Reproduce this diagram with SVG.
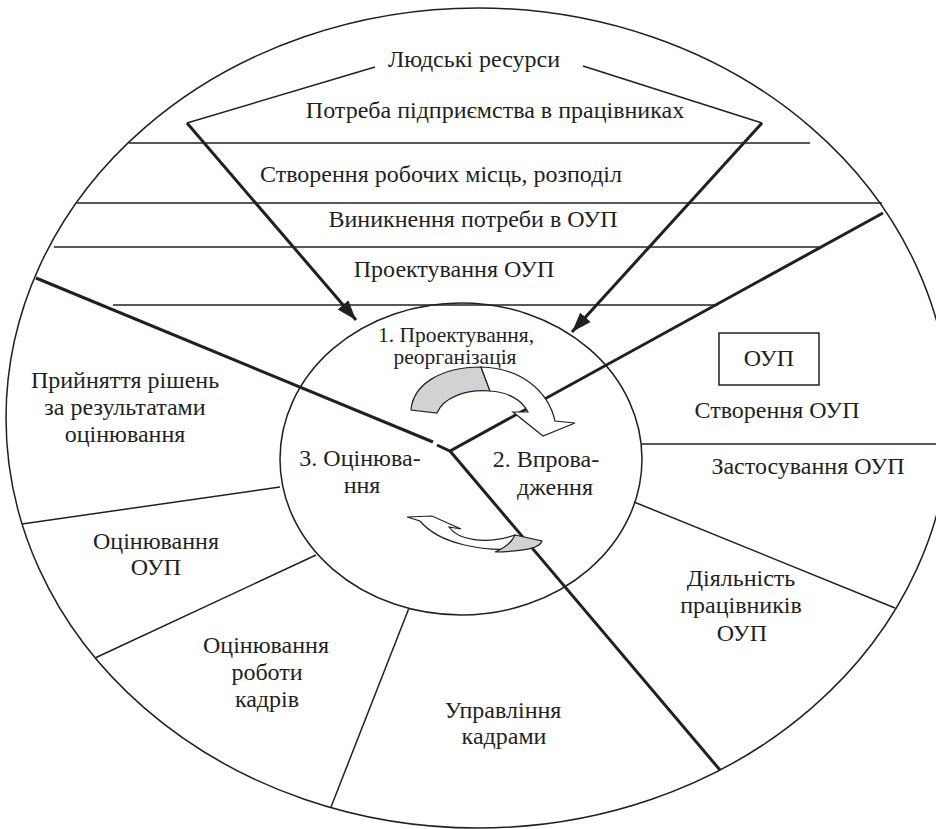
<svg xmlns="http://www.w3.org/2000/svg" width="936" height="829" viewBox="0 0 936 829">
<style>
.t{font-family:"Liberation Serif","Times New Roman",serif;font-size:24px;fill:#231f20;text-anchor:middle}
.s{font-size:21.5px}
.thin{stroke:#231f20;stroke-width:1.5;fill:none}
.thick{stroke:#231f20;stroke-width:3;fill:none}
.ca{stroke:#231f20;stroke-width:1.2}
</style>
<defs>
<marker id="ah" markerUnits="userSpaceOnUse" markerWidth="22" markerHeight="16" refX="20" refY="8" orient="auto">
<path d="M0,1 L20,8 L0,15 Z" fill="#231f20"/>
</marker>
</defs>
<rect width="936" height="829" fill="#fff"/>
<g id="outer">
<ellipse cx="478" cy="418" rx="472" ry="410" class="thin"/>
</g>
<g id="inner">
<ellipse cx="461" cy="459" rx="181" ry="156" class="thin"/>
</g>
<g id="connectors">
<line x1="129" y1="143" x2="810" y2="143" class="thin"/>
<line x1="77" y1="203" x2="882" y2="203" class="thin"/>
<line x1="54" y1="247" x2="819" y2="247" class="thin"/>
<line x1="113" y1="305" x2="718" y2="305" class="thin"/>
<line x1="642" y1="444" x2="936" y2="444" class="thin"/>
<line x1="634" y1="502" x2="895" y2="608" class="thin"/>
<line x1="22" y1="524" x2="280" y2="487" class="thin"/>
<line x1="95" y1="658" x2="316" y2="555" class="thin"/>
<line x1="409" y1="608" x2="331" y2="807" class="thin"/>
<polyline points="375,67 187,123" class="thin"/>
<polyline points="583,66 762,123" class="thin"/>
<line x1="187" y1="123" x2="356" y2="320" class="thick" marker-end="url(#ah)"/>
<line x1="762" y1="123" x2="572" y2="332" class="thick" marker-end="url(#ah)"/>
<line x1="36" y1="278" x2="433" y2="442" class="thick"/>
<polyline points="437,445 450,451 883,213" class="thick"/>
<line x1="450" y1="451" x2="720" y2="770" class="thick"/>
</g>
<g id="cycle-arrow-top">
<path d="M411,410 C413,385 440,367 481,367 L490,391 C465,389 443,398 437,413 Z" fill="#d0d2d3" class="ca"/>
<path d="M481,367 C520,368 548,390 555,421 L575,423 L543,436 L513,412 L528,412 C522,400 508,392 490,391 Z" fill="#fff" class="ca"/>
</g>
<g id="cycle-arrow-bottom">
<path d="M407,517 L432,516 L461,529 L449,527 C458,540 485,545 515,535 L513,549 C485,551 440,545 420,521 Z" fill="#fff" class="ca"/>
<path d="M515,535 L542,541 C540,547 530,551 495,552 C505,548 512,542 515,535 Z" fill="#d0d2d3" class="ca"/>
</g>
<g id="n-resources"><text class="t" x="474" y="67">Людські ресурси</text></g>
<g id="n-need"><text class="t" x="495" y="118">Потреба підприємства в працівниках</text></g>
<g id="n-jobs"><text class="t" x="441" y="182">Створення робочих місць, розподіл</text></g>
<g id="n-ovp-need"><text class="t" x="473" y="227">Виникнення потреби в ОУП</text></g>
<g id="n-ovp-design"><text class="t" x="454" y="277">Проектування ОУП</text></g>
<g id="n-stage1"><text class="t s" x="456" y="342">1. Проектування,</text><text class="t s" x="455" y="364">реорганізація</text></g>
<g id="n-stage3"><text class="t" x="360" y="466">3. Оцінюва-</text><text class="t" x="362" y="493">ння</text></g>
<g id="n-stage2"><text class="t" x="546" y="467">2. Впрова-</text><text class="t" x="555" y="495">дження</text></g>
<g id="n-ovp-box"><rect x="719" y="333" width="100" height="52" fill="none" stroke="#231f20" stroke-width="1.5"/><text class="t" x="769" y="366">ОУП</text></g>
<g id="n-create"><text class="t" x="777" y="418">Створення ОУП</text></g>
<g id="n-apply"><text class="t" x="808" y="474">Застосування ОУП</text></g>
<g id="n-activity"><text class="t" x="741" y="586">Діяльність</text><text class="t" x="741" y="613">працівників</text><text class="t" x="742" y="641">ОУП</text></g>
<g id="n-decisions"><text class="t" x="125" y="388">Прийняття рішень</text><text class="t" x="125" y="415">за результатами</text><text class="t" x="125" y="442">оцінювання</text></g>
<g id="n-eval-ovp"><text class="t" x="156" y="549">Оцінювання</text><text class="t" x="156" y="575">ОУП</text></g>
<g id="n-eval-staff"><text class="t" x="266" y="653">Оцінювання</text><text class="t" x="267" y="680">роботи</text><text class="t" x="267" y="707">кадрів</text></g>
<g id="n-hr"><text class="t" x="503" y="718">Управління</text><text class="t" x="504" y="744">кадрами</text></g>
</svg>
